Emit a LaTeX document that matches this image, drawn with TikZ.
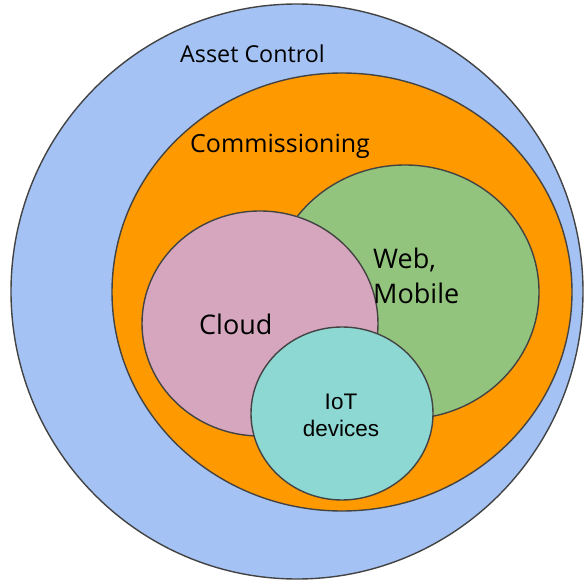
\documentclass[tikz,border=0pt]{standalone}
\usepackage{fontspec}
\setmainfont{Open Sans}
\newfontfamily\arialfont{Liberation Sans}
\definecolor{cblue}{HTML}{A4C2F4}
\definecolor{corange}{HTML}{FF9900}
\definecolor{cgreen}{HTML}{93C47D}
\definecolor{cpink}{HTML}{D5A6BD}
\definecolor{cteal}{HTML}{8DD8D2}
\definecolor{cline}{HTML}{434343}
\tikzset{
  region/.style={draw=cline, line width=1.4pt},
  lbl/.style={inner sep=0pt, anchor=base west, text=black},
  iotlbl/.style={inner sep=0pt, anchor=base, text=black, font=\arialfont\fontsize{22.5}{27}\selectfont}
}
\begin{document}
\begin{tikzpicture}[x=1pt,y=-1pt]
\useasboundingbox (0,0) rectangle (584,583);
\filldraw[region, fill=cblue] (297,291.5) ellipse [x radius=286, y radius=287.5];
\filldraw[region, fill=corange] (342,292) ellipse [x radius=230, y radius=219];
\filldraw[region, fill=cgreen] (405,292) ellipse [x radius=134, y radius=127];
\filldraw[region, fill=cpink] (260,323.5) ellipse [x radius=118, y radius=112.5];
\filldraw[region, fill=cteal] (342,413.5) ellipse [x radius=91, y radius=86.5];
\node[lbl, font=\fontsize{23.3}{27}\selectfont] (asset) at (180,63) {Asset Control};
\node[lbl, font=\fontsize{25}{29}\selectfont] (comm) at (190,153) {Commissioning};
\node[lbl, font=\fontsize{27}{32}\selectfont] (cloud) at (199,334) {Cloud};
\node[lbl, font=\fontsize{27}{32}\selectfont] (web) at (373,268) {Web,};
\node[lbl, font=\fontsize{27}{32}\selectfont] (mobile) at (373,303) {Mobile};
\node[iotlbl] (iot) at (341,409) {IoT};
\node[iotlbl] (devices) at (341,436) {devices};
\end{tikzpicture}
\end{document}
